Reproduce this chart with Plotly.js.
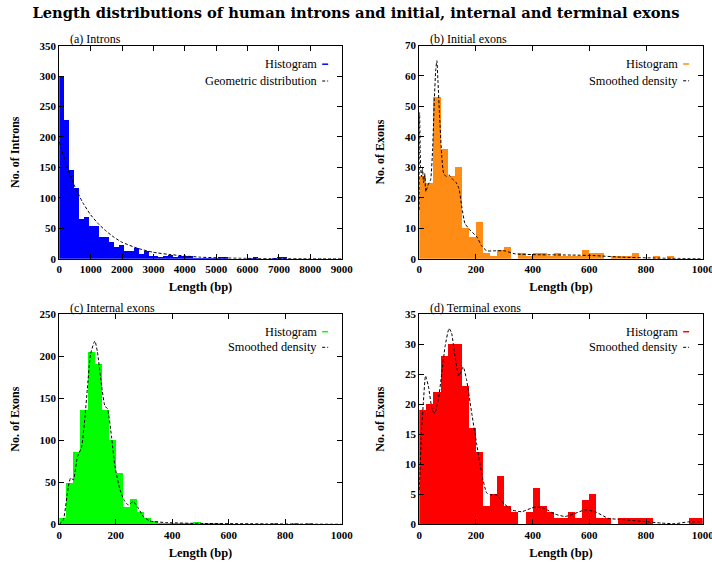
<!DOCTYPE html>
<html>
<head>
<meta charset="utf-8">
<script src="https://cdn.plot.ly/plotly-3.0.1.min.js"></script>
<style>html,body{margin:0;padding:0;background:#fff;}#chart{width:712px;height:563px;}</style>
</head>
<body>
<div id="chart"></div>
<script>
// ---------------- DATA ----------------
const chartTitle = "Length distributions of human introns and initial, internal and terminal exons";
const panelLabels = ["(a) Introns", "(b) Initial exons", "(c) Internal exons", "(d) Terminal exons"];
const yTitles = ["No. of Introns", "No. of Exons", "No. of Exons", "No. of Exons"];
const xTitle = "Length (bp)";
const curveNames = ["Geometric distribution", "Smoothed density", "Smoothed density", "Smoothed density"];

// (a) Introns: histogram (bin width 158 bp, starting at 0)
const intronBinWidth = 158;
const intronCounts = [300, 228, 146, 117, 65, 68, 54, 54, 36, 35, 27, 20, 22, 12, 12, 17, 7, 13, 5, 4,
  3, 5, 6, 3, 5, 4, 4, 1, 1, 1, 1, 1, 2, 2, 0, 0, 0, 0, 1, 2,
  0, 0, 0, 1, 2, 2, 0, 0, 0, 0, 0, 0, 0, 0, 0, 0, 0];
const intronCurveX = [0, 250, 500, 750, 1000, 1250, 1500, 1750, 2000, 2500, 3000, 3500, 4000, 4500, 5000, 6000, 7000, 8000, 9000];
const intronCurveY = [192, 150, 118, 92, 72, 57, 45, 35, 27, 17, 10.5, 7, 4.5, 2.5, 1.5, 0.5, 0.2, 0.1, 0];

// Exons: bin width 25 bp
const exonBinWidth = 25;
const initialCounts = [27, 25, 53, 36, 27, 30, 10, 7, 12, 2, 1, 3, 4, 0, 2, 1, 2, 2, 1, 2,
  1, 1, 1, 3, 2, 2, 0, 1, 1, 1, 2, 0, 0, 1, 0, 1, 0, 0, 0, 0];
const initialCurveX = [0, 1, 3, 5, 8, 11, 15, 19, 23, 30, 40, 47, 53, 58, 62, 66, 71, 79, 86, 95, 105, 118, 130, 140, 150, 161, 179, 203, 220, 238, 270, 300, 338, 420, 538, 620, 714, 832, 1000];
const initialCurveY = [16, 48, 36, 29, 27, 30, 25, 28, 22, 24, 26, 36, 52, 62, 65, 58, 48, 34, 28, 27, 27.5, 26, 25, 23, 17, 11.6, 9.4, 7.2, 4.2, 2.6, 2.6, 2.6, 1.6, 1.3, 1.2, 1, 0.5, 0.2, 0];

const internalCounts = [8, 49, 86, 136, 205, 190, 136, 100, 61, 20, 30, 15, 7, 4, 2, 2, 1, 1, 1, 3,
  1, 1, 1, 0, 0, 0, 0, 0, 0, 0, 1, 0, 0, 1, 0, 1, 0, 0, 0, 0];
const internalCurveX = [0, 14, 32, 40, 50, 64, 79, 91, 99, 111, 126, 135, 150, 162, 170, 185, 197, 215, 229, 244, 262, 280, 298, 321, 380, 498, 734, 1000];
const internalCurveY = [0, 5, 45, 55, 53, 80, 92, 128, 160, 203, 218, 205, 164, 140, 138, 104, 69, 41, 29, 23, 27, 19, 9, 4, 2, 1, 0.5, 0];

const terminalCounts = [19, 20, 22, 28, 30, 30, 23, 16, 12, 3, 5, 8, 3, 2, 0, 2, 6, 3, 2, 1,
  1, 2, 1, 4, 5, 1, 1, 0, 1, 1, 1, 1, 1, 0, 0, 0, 0, 0, 1, 1];
const terminalCurveX = [0, 8, 14, 22, 32, 46, 55, 67, 79, 91, 105, 114, 126, 140, 155, 167, 185, 202, 220, 238, 255, 273, 291, 326, 361, 396, 414, 438, 479, 514, 549, 585, 620, 667, 714, 808, 855, 902, 949, 1000];
const terminalCurveY = [5.7, 15.7, 20, 24.7, 23, 19, 18.5, 20.7, 25, 29.6, 32.6, 31.8, 27.9, 24.7, 26.2, 24, 18.5, 13.5, 8.5, 5.2, 4.9, 4.9, 3.8, 2.4, 2.1, 2.7, 2.9, 2.7, 1.7, 1.3, 1.8, 2.4, 2.1, 1, 0.8, 0.4, 0.2, 0.1, 0.4, 0.4];

const histColors = ["#0000ff", "#ff8c14", "#00ff00", "#ff0000"];
const xRanges = [[0, 9000], [0, 1000], [0, 1000], [0, 1000]];
const xDtick = [1000, 200, 200, 200];
const yRanges = [[0, 350], [0, 70], [0, 250], [0, 35]];
const yDtick = [50, 10, 50, 5];

// ---------------- BUILD ----------------
const serif = "Liberation Serif, Times New Roman, serif";
const wideSerif = "DejaVu Serif, serif";
const panels = [
  {counts: intronCounts, bw: intronBinWidth, cx: intronCurveX, cy: intronCurveY},
  {counts: initialCounts, bw: exonBinWidth, cx: initialCurveX, cy: initialCurveY},
  {counts: internalCounts, bw: exonBinWidth, cx: internalCurveX, cy: internalCurveY},
  {counts: terminalCounts, bw: exonBinWidth, cx: terminalCurveX, cy: terminalCurveY}
];
const W = 712, H = 563;
const xDomains = [[59.3, 341.7], [419.3, 702.7], [59.3, 341.7], [419.3, 702.7]];
const yDomainsPx = [[45.7, 258.7], [45.5, 258.7], [314, 524.3], [314, 524.3]];

const traces = [];
const layout = {
  width: W, height: H,
  margin: {l: 0, r: 0, t: 0, b: 0},
  paper_bgcolor: "#fff", plot_bgcolor: "#fff",
  showlegend: false,
  barmode: "overlay", bargap: 0,
  title: {text: chartTitle, x: 0.5, xanchor: "center", y: 1 - 13 / H, yanchor: "middle",
    font: {family: wideSerif, size: 14.7, weight: "bold", color: "#000"}},
  annotations: [], shapes: []
};

panels.forEach((p, i) => {
  const n = i + 1;
  const xa = "x" + (n === 1 ? "" : n), ya = "y" + (n === 1 ? "" : n);
  traces.push({
    type: "bar", xaxis: xa, yaxis: ya,
    x0: p.bw / 2, dx: p.bw, y: p.counts, width: p.bw,
    marker: {color: histColors[i], line: {width: 0}},
    hoverinfo: "skip"
  });
  traces.push({
    type: "scatter", mode: "lines", xaxis: xa, yaxis: ya,
    x: p.cx, y: p.cy,
    line: {color: "#000", width: 1, dash: "3px,2px", shape: "spline", smoothing: 0.5},
    hoverinfo: "skip"
  });
  const axCommon = {
    showline: true, mirror: "ticks", linecolor: "#000", linewidth: 1,
    ticks: "inside", ticklen: 5, tickcolor: "#000", tickwidth: 1,
    showgrid: false, zeroline: false,
    tickfont: {family: serif, size: 11, weight: "bold", color: "#000"}
  };
  layout["xaxis" + (n === 1 ? "" : n)] = Object.assign({}, axCommon, {
    anchor: ya, domain: [xDomains[i][0] / W, xDomains[i][1] / W],
    range: xRanges[i], dtick: xDtick[i], tick0: 0, ticklabeloverflow: "allow",
    title: {text: xTitle, standoff: 8, font: {family: serif, size: 12.5, weight: "bold", color: "#000"}}
  });
  layout["yaxis" + (n === 1 ? "" : n)] = Object.assign({}, axCommon, {
    anchor: xa, domain: [1 - yDomainsPx[i][1] / H, 1 - yDomainsPx[i][0] / H],
    range: yRanges[i], dtick: yDtick[i], tick0: 0,
    title: {text: yTitles[i], standoff: 17, font: {family: serif, size: 12, weight: "bold", color: "#000"}}
  });
  const xd = xa + " domain", yd = ya + " domain";
  const hPx = yDomainsPx[i][1] - yDomainsPx[i][0];
  // panel label
  layout.annotations.push({text: panelLabels[i], xref: xd, yref: yd, x: 0.03, y: 1 + 6.5 / hPx,
    xanchor: "left", yanchor: "middle", showarrow: false,
    font: {family: serif, size: 12, color: "#000"}});
  // legend (gnuplot style: text right, sample on right)
  const row1 = 1 - (i < 2 ? 18.5 : 17.7) / hPx, row2 = 1 - (i < 2 ? 35.3 : 33.3) / hPx;
  layout.annotations.push({text: "Histogram", xref: xd, yref: yd, x: 0.92, y: row1,
    xanchor: "right", yanchor: "middle", showarrow: false,
    font: {family: serif, size: 12.3, color: "#000"}});
  layout.annotations.push({text: curveNames[i], xref: xd, yref: yd, x: 0.92, y: row2,
    xanchor: "right", yanchor: "middle", showarrow: false,
    font: {family: serif, size: 12.3, color: "#000"}});
  layout.shapes.push({type: "line", xref: xd, yref: yd, x0: 0.931, x1: 0.952, y0: row1, y1: row1,
    line: {color: histColors[i], width: 1.5}});
  layout.shapes.push({type: "line", xref: xd, yref: yd, x0: 0.931, x1: 0.952, y0: row2, y1: row2,
    line: {color: "#000", width: 1, dash: "3px,2px"}});
});

Plotly.newPlot("chart", traces, layout, {displayModeBar: false, staticPlot: true});
</script>
</body>
</html>
